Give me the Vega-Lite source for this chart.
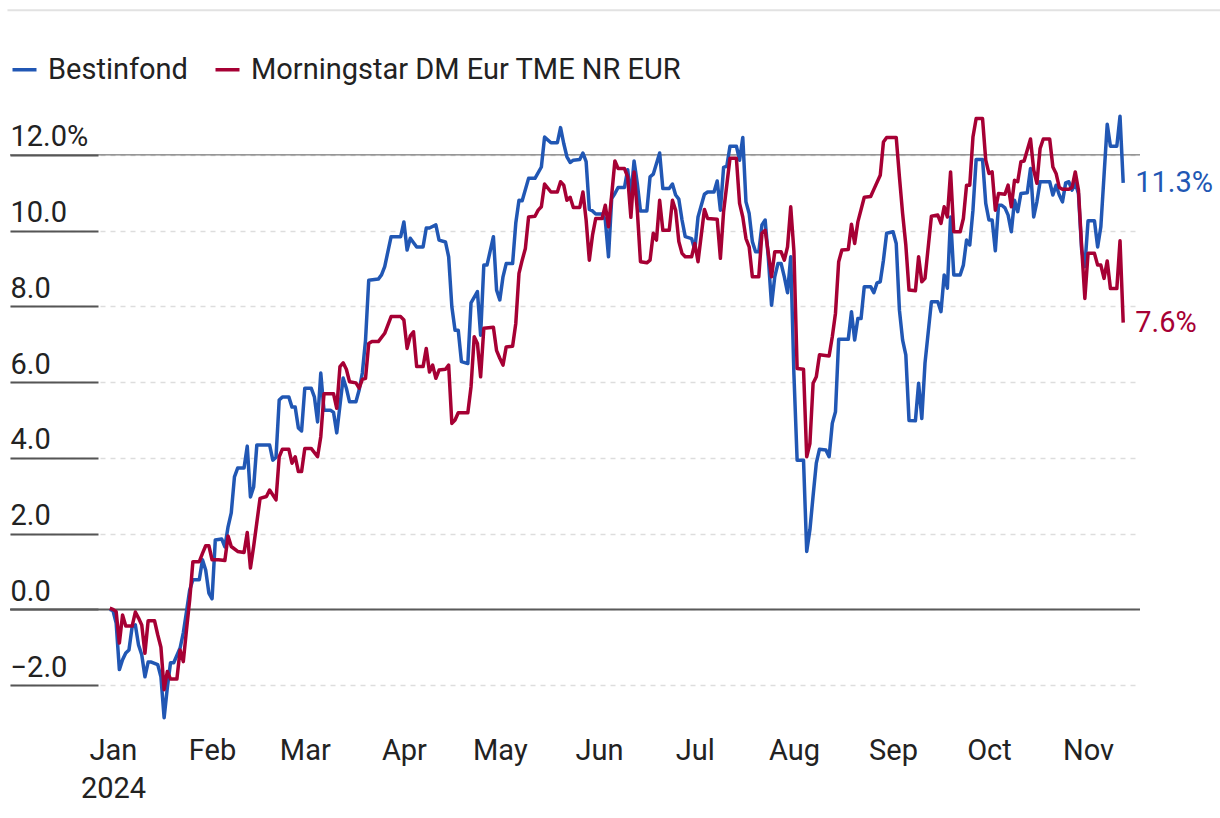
{
  "$schema": "https://vega.github.io/schema/vega-lite/v6.json",
  "width": 1130,
  "height": 606,
  "autosize": {"type": "none"},
  "padding": {"left": 10, "top": 117, "right": 80, "bottom": 95},
  "background": "white",
  "config": {
    "view": {"stroke": null},
    "font": "Roboto, sans-serif"
  },
  "data": {"values": [{}]},
  "datasets": {
    "series": [
      {"date": "2023-12-31", "value": 0.0, "series": "Bestinfond"},
      {"date": "2024-01-01", "value": -0.03, "series": "Bestinfond"},
      {"date": "2024-01-02", "value": -0.36, "series": "Bestinfond"},
      {"date": "2024-01-03", "value": -1.59, "series": "Bestinfond"},
      {"date": "2024-01-04", "value": -1.33, "series": "Bestinfond"},
      {"date": "2024-01-05", "value": -1.15, "series": "Bestinfond"},
      {"date": "2024-01-06", "value": -1.07, "series": "Bestinfond"},
      {"date": "2024-01-07", "value": -0.46, "series": "Bestinfond"},
      {"date": "2024-01-08", "value": -0.41, "series": "Bestinfond"},
      {"date": "2024-01-09", "value": -0.94, "series": "Bestinfond"},
      {"date": "2024-01-10", "value": -1.2, "series": "Bestinfond"},
      {"date": "2024-01-11", "value": -1.78, "series": "Bestinfond"},
      {"date": "2024-01-12", "value": -1.39, "series": "Bestinfond"},
      {"date": "2024-01-13", "value": -1.39, "series": "Bestinfond"},
      {"date": "2024-01-15", "value": -1.46, "series": "Bestinfond"},
      {"date": "2024-01-16", "value": -1.78, "series": "Bestinfond"},
      {"date": "2024-01-17", "value": -2.86, "series": "Bestinfond"},
      {"date": "2024-01-18", "value": -2.07, "series": "Bestinfond"},
      {"date": "2024-01-19", "value": -1.41, "series": "Bestinfond"},
      {"date": "2024-01-20", "value": -1.41, "series": "Bestinfond"},
      {"date": "2024-01-22", "value": -1.02, "series": "Bestinfond"},
      {"date": "2024-01-23", "value": -0.62, "series": "Bestinfond"},
      {"date": "2024-01-24", "value": -0.06, "series": "Bestinfond"},
      {"date": "2024-01-25", "value": 0.51, "series": "Bestinfond"},
      {"date": "2024-01-26", "value": 0.78, "series": "Bestinfond"},
      {"date": "2024-01-28", "value": 0.78, "series": "Bestinfond"},
      {"date": "2024-01-29", "value": 1.31, "series": "Bestinfond"},
      {"date": "2024-01-30", "value": 1.04, "series": "Bestinfond"},
      {"date": "2024-01-31", "value": 0.43, "series": "Bestinfond"},
      {"date": "2024-02-01", "value": 0.28, "series": "Bestinfond"},
      {"date": "2024-02-02", "value": 1.83, "series": "Bestinfond"},
      {"date": "2024-02-04", "value": 1.86, "series": "Bestinfond"},
      {"date": "2024-02-05", "value": 1.65, "series": "Bestinfond"},
      {"date": "2024-02-06", "value": 2.18, "series": "Bestinfond"},
      {"date": "2024-02-07", "value": 2.55, "series": "Bestinfond"},
      {"date": "2024-02-08", "value": 3.5, "series": "Bestinfond"},
      {"date": "2024-02-09", "value": 3.73, "series": "Bestinfond"},
      {"date": "2024-02-11", "value": 3.73, "series": "Bestinfond"},
      {"date": "2024-02-12", "value": 4.31, "series": "Bestinfond"},
      {"date": "2024-02-13", "value": 2.97, "series": "Bestinfond"},
      {"date": "2024-02-14", "value": 3.23, "series": "Bestinfond"},
      {"date": "2024-02-15", "value": 4.34, "series": "Bestinfond"},
      {"date": "2024-02-19", "value": 4.34, "series": "Bestinfond"},
      {"date": "2024-02-20", "value": 3.94, "series": "Bestinfond"},
      {"date": "2024-02-21", "value": 4.02, "series": "Bestinfond"},
      {"date": "2024-02-22", "value": 5.53, "series": "Bestinfond"},
      {"date": "2024-02-23", "value": 5.61, "series": "Bestinfond"},
      {"date": "2024-02-25", "value": 5.61, "series": "Bestinfond"},
      {"date": "2024-02-26", "value": 5.34, "series": "Bestinfond"},
      {"date": "2024-02-27", "value": 5.34, "series": "Bestinfond"},
      {"date": "2024-02-28", "value": 4.79, "series": "Bestinfond"},
      {"date": "2024-02-29", "value": 4.71, "series": "Bestinfond"},
      {"date": "2024-03-01", "value": 5.84, "series": "Bestinfond"},
      {"date": "2024-03-03", "value": 5.84, "series": "Bestinfond"},
      {"date": "2024-03-04", "value": 5.61, "series": "Bestinfond"},
      {"date": "2024-03-05", "value": 4.95, "series": "Bestinfond"},
      {"date": "2024-03-06", "value": 6.24, "series": "Bestinfond"},
      {"date": "2024-03-07", "value": 5.26, "series": "Bestinfond"},
      {"date": "2024-03-09", "value": 5.26, "series": "Bestinfond"},
      {"date": "2024-03-10", "value": 5.2, "series": "Bestinfond"},
      {"date": "2024-03-11", "value": 4.66, "series": "Bestinfond"},
      {"date": "2024-03-13", "value": 6.11, "series": "Bestinfond"},
      {"date": "2024-03-14", "value": 5.84, "series": "Bestinfond"},
      {"date": "2024-03-15", "value": 5.48, "series": "Bestinfond"},
      {"date": "2024-03-17", "value": 5.48, "series": "Bestinfond"},
      {"date": "2024-03-18", "value": 5.79, "series": "Bestinfond"},
      {"date": "2024-03-19", "value": 6.24, "series": "Bestinfond"},
      {"date": "2024-03-20", "value": 7.11, "series": "Bestinfond"},
      {"date": "2024-03-21", "value": 8.69, "series": "Bestinfond"},
      {"date": "2024-03-24", "value": 8.72, "series": "Bestinfond"},
      {"date": "2024-03-25", "value": 8.83, "series": "Bestinfond"},
      {"date": "2024-03-26", "value": 9.05, "series": "Bestinfond"},
      {"date": "2024-03-28", "value": 9.84, "series": "Bestinfond"},
      {"date": "2024-03-31", "value": 9.84, "series": "Bestinfond"},
      {"date": "2024-04-01", "value": 10.23, "series": "Bestinfond"},
      {"date": "2024-04-02", "value": 9.49, "series": "Bestinfond"},
      {"date": "2024-04-03", "value": 9.8, "series": "Bestinfond"},
      {"date": "2024-04-05", "value": 9.57, "series": "Bestinfond"},
      {"date": "2024-04-07", "value": 9.57, "series": "Bestinfond"},
      {"date": "2024-04-08", "value": 10.07, "series": "Bestinfond"},
      {"date": "2024-04-09", "value": 10.07, "series": "Bestinfond"},
      {"date": "2024-04-11", "value": 10.15, "series": "Bestinfond"},
      {"date": "2024-04-12", "value": 9.75, "series": "Bestinfond"},
      {"date": "2024-04-14", "value": 9.7, "series": "Bestinfond"},
      {"date": "2024-04-15", "value": 9.31, "series": "Bestinfond"},
      {"date": "2024-04-16", "value": 7.99, "series": "Bestinfond"},
      {"date": "2024-04-17", "value": 7.37, "series": "Bestinfond"},
      {"date": "2024-04-18", "value": 7.37, "series": "Bestinfond"},
      {"date": "2024-04-19", "value": 6.54, "series": "Bestinfond"},
      {"date": "2024-04-21", "value": 6.49, "series": "Bestinfond"},
      {"date": "2024-04-22", "value": 8.09, "series": "Bestinfond"},
      {"date": "2024-04-24", "value": 8.39, "series": "Bestinfond"},
      {"date": "2024-04-25", "value": 7.24, "series": "Bestinfond"},
      {"date": "2024-04-26", "value": 9.09, "series": "Bestinfond"},
      {"date": "2024-04-27", "value": 9.09, "series": "Bestinfond"},
      {"date": "2024-04-29", "value": 9.84, "series": "Bestinfond"},
      {"date": "2024-04-30", "value": 8.43, "series": "Bestinfond"},
      {"date": "2024-05-01", "value": 8.17, "series": "Bestinfond"},
      {"date": "2024-05-02", "value": 8.78, "series": "Bestinfond"},
      {"date": "2024-05-03", "value": 9.13, "series": "Bestinfond"},
      {"date": "2024-05-05", "value": 9.13, "series": "Bestinfond"},
      {"date": "2024-05-06", "value": 10.2, "series": "Bestinfond"},
      {"date": "2024-05-07", "value": 10.8, "series": "Bestinfond"},
      {"date": "2024-05-08", "value": 10.79, "series": "Bestinfond"},
      {"date": "2024-05-10", "value": 11.38, "series": "Bestinfond"},
      {"date": "2024-05-12", "value": 11.38, "series": "Bestinfond"},
      {"date": "2024-05-14", "value": 11.68, "series": "Bestinfond"},
      {"date": "2024-05-15", "value": 12.47, "series": "Bestinfond"},
      {"date": "2024-05-17", "value": 12.32, "series": "Bestinfond"},
      {"date": "2024-05-19", "value": 12.32, "series": "Bestinfond"},
      {"date": "2024-05-20", "value": 12.72, "series": "Bestinfond"},
      {"date": "2024-05-21", "value": 12.3, "series": "Bestinfond"},
      {"date": "2024-05-22", "value": 11.95, "series": "Bestinfond"},
      {"date": "2024-05-23", "value": 11.8, "series": "Bestinfond"},
      {"date": "2024-05-24", "value": 11.86, "series": "Bestinfond"},
      {"date": "2024-05-26", "value": 11.88, "series": "Bestinfond"},
      {"date": "2024-05-27", "value": 12.05, "series": "Bestinfond"},
      {"date": "2024-05-28", "value": 11.82, "series": "Bestinfond"},
      {"date": "2024-05-29", "value": 10.56, "series": "Bestinfond"},
      {"date": "2024-05-30", "value": 10.52, "series": "Bestinfond"},
      {"date": "2024-05-31", "value": 10.44, "series": "Bestinfond"},
      {"date": "2024-06-02", "value": 10.44, "series": "Bestinfond"},
      {"date": "2024-06-03", "value": 10.28, "series": "Bestinfond"},
      {"date": "2024-06-04", "value": 9.31, "series": "Bestinfond"},
      {"date": "2024-06-05", "value": 10.85, "series": "Bestinfond"},
      {"date": "2024-06-06", "value": 10.98, "series": "Bestinfond"},
      {"date": "2024-06-07", "value": 11.14, "series": "Bestinfond"},
      {"date": "2024-06-09", "value": 11.14, "series": "Bestinfond"},
      {"date": "2024-06-10", "value": 11.61, "series": "Bestinfond"},
      {"date": "2024-06-11", "value": 10.91, "series": "Bestinfond"},
      {"date": "2024-06-12", "value": 11.84, "series": "Bestinfond"},
      {"date": "2024-06-13", "value": 11.25, "series": "Bestinfond"},
      {"date": "2024-06-14", "value": 10.52, "series": "Bestinfond"},
      {"date": "2024-06-16", "value": 10.52, "series": "Bestinfond"},
      {"date": "2024-06-17", "value": 11.42, "series": "Bestinfond"},
      {"date": "2024-06-18", "value": 11.49, "series": "Bestinfond"},
      {"date": "2024-06-20", "value": 12.05, "series": "Bestinfond"},
      {"date": "2024-06-21", "value": 11.11, "series": "Bestinfond"},
      {"date": "2024-06-23", "value": 11.11, "series": "Bestinfond"},
      {"date": "2024-06-24", "value": 11.23, "series": "Bestinfond"},
      {"date": "2024-06-25", "value": 10.94, "series": "Bestinfond"},
      {"date": "2024-06-26", "value": 10.83, "series": "Bestinfond"},
      {"date": "2024-06-27", "value": 10.28, "series": "Bestinfond"},
      {"date": "2024-06-28", "value": 9.84, "series": "Bestinfond"},
      {"date": "2024-06-30", "value": 9.79, "series": "Bestinfond"},
      {"date": "2024-07-01", "value": 9.49, "series": "Bestinfond"},
      {"date": "2024-07-02", "value": 10.36, "series": "Bestinfond"},
      {"date": "2024-07-04", "value": 10.96, "series": "Bestinfond"},
      {"date": "2024-07-05", "value": 11.02, "series": "Bestinfond"},
      {"date": "2024-07-07", "value": 11.02, "series": "Bestinfond"},
      {"date": "2024-07-08", "value": 11.31, "series": "Bestinfond"},
      {"date": "2024-07-09", "value": 10.54, "series": "Bestinfond"},
      {"date": "2024-07-10", "value": 11.67, "series": "Bestinfond"},
      {"date": "2024-07-11", "value": 11.7, "series": "Bestinfond"},
      {"date": "2024-07-12", "value": 12.23, "series": "Bestinfond"},
      {"date": "2024-07-14", "value": 12.23, "series": "Bestinfond"},
      {"date": "2024-07-15", "value": 11.86, "series": "Bestinfond"},
      {"date": "2024-07-16", "value": 12.46, "series": "Bestinfond"},
      {"date": "2024-07-17", "value": 10.76, "series": "Bestinfond"},
      {"date": "2024-07-18", "value": 10.45, "series": "Bestinfond"},
      {"date": "2024-07-19", "value": 9.71, "series": "Bestinfond"},
      {"date": "2024-07-20", "value": 9.44, "series": "Bestinfond"},
      {"date": "2024-07-21", "value": 9.44, "series": "Bestinfond"},
      {"date": "2024-07-22", "value": 10.15, "series": "Bestinfond"},
      {"date": "2024-07-23", "value": 10.28, "series": "Bestinfond"},
      {"date": "2024-07-24", "value": 9.27, "series": "Bestinfond"},
      {"date": "2024-07-25", "value": 8.03, "series": "Bestinfond"},
      {"date": "2024-07-26", "value": 8.78, "series": "Bestinfond"},
      {"date": "2024-07-27", "value": 9.13, "series": "Bestinfond"},
      {"date": "2024-07-28", "value": 9.13, "series": "Bestinfond"},
      {"date": "2024-07-29", "value": 8.78, "series": "Bestinfond"},
      {"date": "2024-07-30", "value": 8.36, "series": "Bestinfond"},
      {"date": "2024-07-31", "value": 9.31, "series": "Bestinfond"},
      {"date": "2024-08-01", "value": 6.2, "series": "Bestinfond"},
      {"date": "2024-08-02", "value": 3.94, "series": "Bestinfond"},
      {"date": "2024-08-04", "value": 3.94, "series": "Bestinfond"},
      {"date": "2024-08-05", "value": 1.53, "series": "Bestinfond"},
      {"date": "2024-08-06", "value": 2.1, "series": "Bestinfond"},
      {"date": "2024-08-07", "value": 3.0, "series": "Bestinfond"},
      {"date": "2024-08-08", "value": 3.86, "series": "Bestinfond"},
      {"date": "2024-08-09", "value": 4.23, "series": "Bestinfond"},
      {"date": "2024-08-11", "value": 4.21, "series": "Bestinfond"},
      {"date": "2024-08-12", "value": 4.03, "series": "Bestinfond"},
      {"date": "2024-08-13", "value": 4.91, "series": "Bestinfond"},
      {"date": "2024-08-14", "value": 5.22, "series": "Bestinfond"},
      {"date": "2024-08-15", "value": 7.13, "series": "Bestinfond"},
      {"date": "2024-08-18", "value": 7.13, "series": "Bestinfond"},
      {"date": "2024-08-19", "value": 7.86, "series": "Bestinfond"},
      {"date": "2024-08-20", "value": 7.11, "series": "Bestinfond"},
      {"date": "2024-08-21", "value": 7.68, "series": "Bestinfond"},
      {"date": "2024-08-22", "value": 7.68, "series": "Bestinfond"},
      {"date": "2024-08-23", "value": 8.52, "series": "Bestinfond"},
      {"date": "2024-08-25", "value": 8.52, "series": "Bestinfond"},
      {"date": "2024-08-26", "value": 8.36, "series": "Bestinfond"},
      {"date": "2024-08-27", "value": 8.62, "series": "Bestinfond"},
      {"date": "2024-08-28", "value": 8.65, "series": "Bestinfond"},
      {"date": "2024-08-29", "value": 9.22, "series": "Bestinfond"},
      {"date": "2024-08-30", "value": 9.93, "series": "Bestinfond"},
      {"date": "2024-09-01", "value": 9.97, "series": "Bestinfond"},
      {"date": "2024-09-02", "value": 9.66, "series": "Bestinfond"},
      {"date": "2024-09-03", "value": 7.9, "series": "Bestinfond"},
      {"date": "2024-09-04", "value": 7.11, "series": "Bestinfond"},
      {"date": "2024-09-05", "value": 6.72, "series": "Bestinfond"},
      {"date": "2024-09-06", "value": 4.99, "series": "Bestinfond"},
      {"date": "2024-09-08", "value": 4.98, "series": "Bestinfond"},
      {"date": "2024-09-09", "value": 5.97, "series": "Bestinfond"},
      {"date": "2024-09-10", "value": 5.04, "series": "Bestinfond"},
      {"date": "2024-09-11", "value": 6.5, "series": "Bestinfond"},
      {"date": "2024-09-13", "value": 8.12, "series": "Bestinfond"},
      {"date": "2024-09-15", "value": 8.12, "series": "Bestinfond"},
      {"date": "2024-09-16", "value": 7.86, "series": "Bestinfond"},
      {"date": "2024-09-17", "value": 8.83, "series": "Bestinfond"},
      {"date": "2024-09-18", "value": 8.48, "series": "Bestinfond"},
      {"date": "2024-09-19", "value": 10.36, "series": "Bestinfond"},
      {"date": "2024-09-20", "value": 8.83, "series": "Bestinfond"},
      {"date": "2024-09-22", "value": 8.83, "series": "Bestinfond"},
      {"date": "2024-09-23", "value": 9.09, "series": "Bestinfond"},
      {"date": "2024-09-24", "value": 9.75, "series": "Bestinfond"},
      {"date": "2024-09-25", "value": 9.62, "series": "Bestinfond"},
      {"date": "2024-09-26", "value": 10.54, "series": "Bestinfond"},
      {"date": "2024-09-27", "value": 11.88, "series": "Bestinfond"},
      {"date": "2024-09-29", "value": 11.88, "series": "Bestinfond"},
      {"date": "2024-09-30", "value": 10.72, "series": "Bestinfond"},
      {"date": "2024-10-01", "value": 10.28, "series": "Bestinfond"},
      {"date": "2024-10-02", "value": 10.28, "series": "Bestinfond"},
      {"date": "2024-10-03", "value": 9.47, "series": "Bestinfond"},
      {"date": "2024-10-04", "value": 10.67, "series": "Bestinfond"},
      {"date": "2024-10-05", "value": 10.67, "series": "Bestinfond"},
      {"date": "2024-10-06", "value": 10.6, "series": "Bestinfond"},
      {"date": "2024-10-07", "value": 10.41, "series": "Bestinfond"},
      {"date": "2024-10-08", "value": 9.97, "series": "Bestinfond"},
      {"date": "2024-10-09", "value": 10.8, "series": "Bestinfond"},
      {"date": "2024-10-10", "value": 10.5, "series": "Bestinfond"},
      {"date": "2024-10-11", "value": 10.98, "series": "Bestinfond"},
      {"date": "2024-10-13", "value": 11.0, "series": "Bestinfond"},
      {"date": "2024-10-14", "value": 11.64, "series": "Bestinfond"},
      {"date": "2024-10-15", "value": 10.36, "series": "Bestinfond"},
      {"date": "2024-10-16", "value": 10.76, "series": "Bestinfond"},
      {"date": "2024-10-17", "value": 11.29, "series": "Bestinfond"},
      {"date": "2024-10-20", "value": 11.29, "series": "Bestinfond"},
      {"date": "2024-10-21", "value": 10.94, "series": "Bestinfond"},
      {"date": "2024-10-22", "value": 11.2, "series": "Bestinfond"},
      {"date": "2024-10-23", "value": 10.94, "series": "Bestinfond"},
      {"date": "2024-10-24", "value": 10.76, "series": "Bestinfond"},
      {"date": "2024-10-25", "value": 11.26, "series": "Bestinfond"},
      {"date": "2024-10-26", "value": 11.29, "series": "Bestinfond"},
      {"date": "2024-10-27", "value": 11.07, "series": "Bestinfond"},
      {"date": "2024-10-28", "value": 11.25, "series": "Bestinfond"},
      {"date": "2024-10-29", "value": 10.98, "series": "Bestinfond"},
      {"date": "2024-10-30", "value": 9.49, "series": "Bestinfond"},
      {"date": "2024-10-31", "value": 9.05, "series": "Bestinfond"},
      {"date": "2024-11-01", "value": 10.26, "series": "Bestinfond"},
      {"date": "2024-11-03", "value": 10.26, "series": "Bestinfond"},
      {"date": "2024-11-04", "value": 9.57, "series": "Bestinfond"},
      {"date": "2024-11-05", "value": 10.1, "series": "Bestinfond"},
      {"date": "2024-11-07", "value": 12.81, "series": "Bestinfond"},
      {"date": "2024-11-08", "value": 12.23, "series": "Bestinfond"},
      {"date": "2024-11-10", "value": 12.23, "series": "Bestinfond"},
      {"date": "2024-11-11", "value": 13.02, "series": "Bestinfond"},
      {"date": "2024-11-12", "value": 11.26, "series": "Bestinfond"},

      {"date": "2023-12-31", "value": 0.03, "series": "Morningstar DM Eur TME NR EUR"},
      {"date": "2024-01-01", "value": 0.0, "series": "Morningstar DM Eur TME NR EUR"},
      {"date": "2024-01-02", "value": -0.06, "series": "Morningstar DM Eur TME NR EUR"},
      {"date": "2024-01-03", "value": -0.89, "series": "Morningstar DM Eur TME NR EUR"},
      {"date": "2024-01-04", "value": -0.15, "series": "Morningstar DM Eur TME NR EUR"},
      {"date": "2024-01-05", "value": -0.44, "series": "Morningstar DM Eur TME NR EUR"},
      {"date": "2024-01-07", "value": -0.44, "series": "Morningstar DM Eur TME NR EUR"},
      {"date": "2024-01-08", "value": -0.07, "series": "Morningstar DM Eur TME NR EUR"},
      {"date": "2024-01-09", "value": -0.23, "series": "Morningstar DM Eur TME NR EUR"},
      {"date": "2024-01-10", "value": -0.41, "series": "Morningstar DM Eur TME NR EUR"},
      {"date": "2024-01-11", "value": -1.16, "series": "Morningstar DM Eur TME NR EUR"},
      {"date": "2024-01-12", "value": -0.3, "series": "Morningstar DM Eur TME NR EUR"},
      {"date": "2024-01-14", "value": -0.3, "series": "Morningstar DM Eur TME NR EUR"},
      {"date": "2024-01-15", "value": -0.67, "series": "Morningstar DM Eur TME NR EUR"},
      {"date": "2024-01-16", "value": -1.0, "series": "Morningstar DM Eur TME NR EUR"},
      {"date": "2024-01-17", "value": -2.12, "series": "Morningstar DM Eur TME NR EUR"},
      {"date": "2024-01-18", "value": -1.64, "series": "Morningstar DM Eur TME NR EUR"},
      {"date": "2024-01-19", "value": -1.84, "series": "Morningstar DM Eur TME NR EUR"},
      {"date": "2024-01-21", "value": -1.84, "series": "Morningstar DM Eur TME NR EUR"},
      {"date": "2024-01-22", "value": -1.07, "series": "Morningstar DM Eur TME NR EUR"},
      {"date": "2024-01-23", "value": -1.38, "series": "Morningstar DM Eur TME NR EUR"},
      {"date": "2024-01-24", "value": -0.54, "series": "Morningstar DM Eur TME NR EUR"},
      {"date": "2024-01-25", "value": 0.25, "series": "Morningstar DM Eur TME NR EUR"},
      {"date": "2024-01-26", "value": 1.26, "series": "Morningstar DM Eur TME NR EUR"},
      {"date": "2024-01-28", "value": 1.26, "series": "Morningstar DM Eur TME NR EUR"},
      {"date": "2024-01-29", "value": 1.48, "series": "Morningstar DM Eur TME NR EUR"},
      {"date": "2024-01-30", "value": 1.68, "series": "Morningstar DM Eur TME NR EUR"},
      {"date": "2024-01-31", "value": 1.68, "series": "Morningstar DM Eur TME NR EUR"},
      {"date": "2024-02-01", "value": 1.31, "series": "Morningstar DM Eur TME NR EUR"},
      {"date": "2024-02-03", "value": 1.31, "series": "Morningstar DM Eur TME NR EUR"},
      {"date": "2024-02-05", "value": 1.29, "series": "Morningstar DM Eur TME NR EUR"},
      {"date": "2024-02-06", "value": 1.94, "series": "Morningstar DM Eur TME NR EUR"},
      {"date": "2024-02-07", "value": 1.66, "series": "Morningstar DM Eur TME NR EUR"},
      {"date": "2024-02-09", "value": 1.53, "series": "Morningstar DM Eur TME NR EUR"},
      {"date": "2024-02-11", "value": 1.5, "series": "Morningstar DM Eur TME NR EUR"},
      {"date": "2024-02-12", "value": 2.03, "series": "Morningstar DM Eur TME NR EUR"},
      {"date": "2024-02-13", "value": 1.09, "series": "Morningstar DM Eur TME NR EUR"},
      {"date": "2024-02-14", "value": 1.66, "series": "Morningstar DM Eur TME NR EUR"},
      {"date": "2024-02-16", "value": 2.93, "series": "Morningstar DM Eur TME NR EUR"},
      {"date": "2024-02-18", "value": 2.98, "series": "Morningstar DM Eur TME NR EUR"},
      {"date": "2024-02-19", "value": 3.15, "series": "Morningstar DM Eur TME NR EUR"},
      {"date": "2024-02-21", "value": 2.89, "series": "Morningstar DM Eur TME NR EUR"},
      {"date": "2024-02-22", "value": 4.03, "series": "Morningstar DM Eur TME NR EUR"},
      {"date": "2024-02-23", "value": 4.23, "series": "Morningstar DM Eur TME NR EUR"},
      {"date": "2024-02-25", "value": 4.23, "series": "Morningstar DM Eur TME NR EUR"},
      {"date": "2024-02-26", "value": 3.86, "series": "Morningstar DM Eur TME NR EUR"},
      {"date": "2024-02-27", "value": 4.03, "series": "Morningstar DM Eur TME NR EUR"},
      {"date": "2024-02-28", "value": 3.64, "series": "Morningstar DM Eur TME NR EUR"},
      {"date": "2024-02-29", "value": 3.64, "series": "Morningstar DM Eur TME NR EUR"},
      {"date": "2024-03-01", "value": 4.25, "series": "Morningstar DM Eur TME NR EUR"},
      {"date": "2024-03-03", "value": 4.25, "series": "Morningstar DM Eur TME NR EUR"},
      {"date": "2024-03-05", "value": 4.03, "series": "Morningstar DM Eur TME NR EUR"},
      {"date": "2024-03-06", "value": 4.56, "series": "Morningstar DM Eur TME NR EUR"},
      {"date": "2024-03-07", "value": 5.69, "series": "Morningstar DM Eur TME NR EUR"},
      {"date": "2024-03-10", "value": 5.69, "series": "Morningstar DM Eur TME NR EUR"},
      {"date": "2024-03-11", "value": 5.31, "series": "Morningstar DM Eur TME NR EUR"},
      {"date": "2024-03-12", "value": 6.41, "series": "Morningstar DM Eur TME NR EUR"},
      {"date": "2024-03-13", "value": 6.51, "series": "Morningstar DM Eur TME NR EUR"},
      {"date": "2024-03-14", "value": 6.34, "series": "Morningstar DM Eur TME NR EUR"},
      {"date": "2024-03-15", "value": 6.01, "series": "Morningstar DM Eur TME NR EUR"},
      {"date": "2024-03-17", "value": 5.98, "series": "Morningstar DM Eur TME NR EUR"},
      {"date": "2024-03-18", "value": 5.84, "series": "Morningstar DM Eur TME NR EUR"},
      {"date": "2024-03-19", "value": 6.07, "series": "Morningstar DM Eur TME NR EUR"},
      {"date": "2024-03-20", "value": 6.1, "series": "Morningstar DM Eur TME NR EUR"},
      {"date": "2024-03-21", "value": 7.02, "series": "Morningstar DM Eur TME NR EUR"},
      {"date": "2024-03-22", "value": 7.07, "series": "Morningstar DM Eur TME NR EUR"},
      {"date": "2024-03-24", "value": 7.07, "series": "Morningstar DM Eur TME NR EUR"},
      {"date": "2024-03-26", "value": 7.29, "series": "Morningstar DM Eur TME NR EUR"},
      {"date": "2024-03-28", "value": 7.73, "series": "Morningstar DM Eur TME NR EUR"},
      {"date": "2024-03-31", "value": 7.73, "series": "Morningstar DM Eur TME NR EUR"},
      {"date": "2024-04-01", "value": 7.64, "series": "Morningstar DM Eur TME NR EUR"},
      {"date": "2024-04-02", "value": 6.89, "series": "Morningstar DM Eur TME NR EUR"},
      {"date": "2024-04-03", "value": 7.22, "series": "Morningstar DM Eur TME NR EUR"},
      {"date": "2024-04-04", "value": 7.33, "series": "Morningstar DM Eur TME NR EUR"},
      {"date": "2024-04-05", "value": 6.41, "series": "Morningstar DM Eur TME NR EUR"},
      {"date": "2024-04-07", "value": 6.41, "series": "Morningstar DM Eur TME NR EUR"},
      {"date": "2024-04-08", "value": 6.89, "series": "Morningstar DM Eur TME NR EUR"},
      {"date": "2024-04-09", "value": 6.27, "series": "Morningstar DM Eur TME NR EUR"},
      {"date": "2024-04-10", "value": 6.45, "series": "Morningstar DM Eur TME NR EUR"},
      {"date": "2024-04-11", "value": 6.1, "series": "Morningstar DM Eur TME NR EUR"},
      {"date": "2024-04-12", "value": 6.32, "series": "Morningstar DM Eur TME NR EUR"},
      {"date": "2024-04-14", "value": 6.34, "series": "Morningstar DM Eur TME NR EUR"},
      {"date": "2024-04-15", "value": 6.45, "series": "Morningstar DM Eur TME NR EUR"},
      {"date": "2024-04-16", "value": 4.91, "series": "Morningstar DM Eur TME NR EUR"},
      {"date": "2024-04-17", "value": 5.0, "series": "Morningstar DM Eur TME NR EUR"},
      {"date": "2024-04-18", "value": 5.19, "series": "Morningstar DM Eur TME NR EUR"},
      {"date": "2024-04-21", "value": 5.19, "series": "Morningstar DM Eur TME NR EUR"},
      {"date": "2024-04-22", "value": 5.88, "series": "Morningstar DM Eur TME NR EUR"},
      {"date": "2024-04-23", "value": 7.2, "series": "Morningstar DM Eur TME NR EUR"},
      {"date": "2024-04-24", "value": 7.02, "series": "Morningstar DM Eur TME NR EUR"},
      {"date": "2024-04-25", "value": 6.14, "series": "Morningstar DM Eur TME NR EUR"},
      {"date": "2024-04-26", "value": 7.42, "series": "Morningstar DM Eur TME NR EUR"},
      {"date": "2024-04-29", "value": 7.45, "series": "Morningstar DM Eur TME NR EUR"},
      {"date": "2024-04-30", "value": 6.83, "series": "Morningstar DM Eur TME NR EUR"},
      {"date": "2024-05-01", "value": 6.63, "series": "Morningstar DM Eur TME NR EUR"},
      {"date": "2024-05-02", "value": 6.45, "series": "Morningstar DM Eur TME NR EUR"},
      {"date": "2024-05-03", "value": 6.93, "series": "Morningstar DM Eur TME NR EUR"},
      {"date": "2024-05-05", "value": 6.95, "series": "Morningstar DM Eur TME NR EUR"},
      {"date": "2024-05-06", "value": 7.55, "series": "Morningstar DM Eur TME NR EUR"},
      {"date": "2024-05-07", "value": 8.87, "series": "Morningstar DM Eur TME NR EUR"},
      {"date": "2024-05-08", "value": 9.22, "series": "Morningstar DM Eur TME NR EUR"},
      {"date": "2024-05-09", "value": 9.53, "series": "Morningstar DM Eur TME NR EUR"},
      {"date": "2024-05-10", "value": 10.36, "series": "Morningstar DM Eur TME NR EUR"},
      {"date": "2024-05-12", "value": 10.38, "series": "Morningstar DM Eur TME NR EUR"},
      {"date": "2024-05-13", "value": 10.54, "series": "Morningstar DM Eur TME NR EUR"},
      {"date": "2024-05-14", "value": 10.63, "series": "Morningstar DM Eur TME NR EUR"},
      {"date": "2024-05-15", "value": 11.23, "series": "Morningstar DM Eur TME NR EUR"},
      {"date": "2024-05-17", "value": 11.02, "series": "Morningstar DM Eur TME NR EUR"},
      {"date": "2024-05-19", "value": 11.02, "series": "Morningstar DM Eur TME NR EUR"},
      {"date": "2024-05-20", "value": 11.29, "series": "Morningstar DM Eur TME NR EUR"},
      {"date": "2024-05-21", "value": 11.2, "series": "Morningstar DM Eur TME NR EUR"},
      {"date": "2024-05-22", "value": 10.8, "series": "Morningstar DM Eur TME NR EUR"},
      {"date": "2024-05-23", "value": 10.88, "series": "Morningstar DM Eur TME NR EUR"},
      {"date": "2024-05-24", "value": 10.61, "series": "Morningstar DM Eur TME NR EUR"},
      {"date": "2024-05-26", "value": 10.61, "series": "Morningstar DM Eur TME NR EUR"},
      {"date": "2024-05-27", "value": 11.02, "series": "Morningstar DM Eur TME NR EUR"},
      {"date": "2024-05-28", "value": 10.28, "series": "Morningstar DM Eur TME NR EUR"},
      {"date": "2024-05-29", "value": 9.22, "series": "Morningstar DM Eur TME NR EUR"},
      {"date": "2024-05-30", "value": 9.88, "series": "Morningstar DM Eur TME NR EUR"},
      {"date": "2024-05-31", "value": 10.32, "series": "Morningstar DM Eur TME NR EUR"},
      {"date": "2024-06-02", "value": 10.32, "series": "Morningstar DM Eur TME NR EUR"},
      {"date": "2024-06-03", "value": 10.67, "series": "Morningstar DM Eur TME NR EUR"},
      {"date": "2024-06-04", "value": 10.1, "series": "Morningstar DM Eur TME NR EUR"},
      {"date": "2024-06-05", "value": 10.94, "series": "Morningstar DM Eur TME NR EUR"},
      {"date": "2024-06-06", "value": 11.84, "series": "Morningstar DM Eur TME NR EUR"},
      {"date": "2024-06-07", "value": 11.64, "series": "Morningstar DM Eur TME NR EUR"},
      {"date": "2024-06-09", "value": 11.64, "series": "Morningstar DM Eur TME NR EUR"},
      {"date": "2024-06-10", "value": 11.42, "series": "Morningstar DM Eur TME NR EUR"},
      {"date": "2024-06-11", "value": 10.35, "series": "Morningstar DM Eur TME NR EUR"},
      {"date": "2024-06-12", "value": 11.55, "series": "Morningstar DM Eur TME NR EUR"},
      {"date": "2024-06-13", "value": 10.54, "series": "Morningstar DM Eur TME NR EUR"},
      {"date": "2024-06-14", "value": 9.18, "series": "Morningstar DM Eur TME NR EUR"},
      {"date": "2024-06-16", "value": 9.15, "series": "Morningstar DM Eur TME NR EUR"},
      {"date": "2024-06-17", "value": 9.22, "series": "Morningstar DM Eur TME NR EUR"},
      {"date": "2024-06-18", "value": 9.93, "series": "Morningstar DM Eur TME NR EUR"},
      {"date": "2024-06-19", "value": 9.75, "series": "Morningstar DM Eur TME NR EUR"},
      {"date": "2024-06-20", "value": 10.8, "series": "Morningstar DM Eur TME NR EUR"},
      {"date": "2024-06-21", "value": 10.01, "series": "Morningstar DM Eur TME NR EUR"},
      {"date": "2024-06-23", "value": 10.01, "series": "Morningstar DM Eur TME NR EUR"},
      {"date": "2024-06-24", "value": 10.8, "series": "Morningstar DM Eur TME NR EUR"},
      {"date": "2024-06-25", "value": 10.54, "series": "Morningstar DM Eur TME NR EUR"},
      {"date": "2024-06-26", "value": 9.71, "series": "Morningstar DM Eur TME NR EUR"},
      {"date": "2024-06-27", "value": 9.4, "series": "Morningstar DM Eur TME NR EUR"},
      {"date": "2024-06-28", "value": 9.31, "series": "Morningstar DM Eur TME NR EUR"},
      {"date": "2024-06-30", "value": 9.31, "series": "Morningstar DM Eur TME NR EUR"},
      {"date": "2024-07-01", "value": 9.66, "series": "Morningstar DM Eur TME NR EUR"},
      {"date": "2024-07-02", "value": 9.18, "series": "Morningstar DM Eur TME NR EUR"},
      {"date": "2024-07-04", "value": 10.56, "series": "Morningstar DM Eur TME NR EUR"},
      {"date": "2024-07-05", "value": 10.32, "series": "Morningstar DM Eur TME NR EUR"},
      {"date": "2024-07-08", "value": 10.3, "series": "Morningstar DM Eur TME NR EUR"},
      {"date": "2024-07-09", "value": 9.27, "series": "Morningstar DM Eur TME NR EUR"},
      {"date": "2024-07-10", "value": 10.5, "series": "Morningstar DM Eur TME NR EUR"},
      {"date": "2024-07-12", "value": 11.91, "series": "Morningstar DM Eur TME NR EUR"},
      {"date": "2024-07-14", "value": 11.91, "series": "Morningstar DM Eur TME NR EUR"},
      {"date": "2024-07-15", "value": 10.72, "series": "Morningstar DM Eur TME NR EUR"},
      {"date": "2024-07-16", "value": 10.36, "series": "Morningstar DM Eur TME NR EUR"},
      {"date": "2024-07-17", "value": 9.79, "series": "Morningstar DM Eur TME NR EUR"},
      {"date": "2024-07-18", "value": 9.57, "series": "Morningstar DM Eur TME NR EUR"},
      {"date": "2024-07-19", "value": 8.78, "series": "Morningstar DM Eur TME NR EUR"},
      {"date": "2024-07-21", "value": 8.78, "series": "Morningstar DM Eur TME NR EUR"},
      {"date": "2024-07-22", "value": 9.93, "series": "Morningstar DM Eur TME NR EUR"},
      {"date": "2024-07-23", "value": 10.01, "series": "Morningstar DM Eur TME NR EUR"},
      {"date": "2024-07-24", "value": 9.4, "series": "Morningstar DM Eur TME NR EUR"},
      {"date": "2024-07-25", "value": 8.78, "series": "Morningstar DM Eur TME NR EUR"},
      {"date": "2024-07-26", "value": 9.44, "series": "Morningstar DM Eur TME NR EUR"},
      {"date": "2024-07-28", "value": 9.44, "series": "Morningstar DM Eur TME NR EUR"},
      {"date": "2024-07-29", "value": 9.22, "series": "Morningstar DM Eur TME NR EUR"},
      {"date": "2024-07-30", "value": 9.57, "series": "Morningstar DM Eur TME NR EUR"},
      {"date": "2024-07-31", "value": 10.63, "series": "Morningstar DM Eur TME NR EUR"},
      {"date": "2024-08-01", "value": 9.45, "series": "Morningstar DM Eur TME NR EUR"},
      {"date": "2024-08-02", "value": 6.36, "series": "Morningstar DM Eur TME NR EUR"},
      {"date": "2024-08-04", "value": 6.34, "series": "Morningstar DM Eur TME NR EUR"},
      {"date": "2024-08-05", "value": 4.03, "series": "Morningstar DM Eur TME NR EUR"},
      {"date": "2024-08-06", "value": 4.38, "series": "Morningstar DM Eur TME NR EUR"},
      {"date": "2024-08-07", "value": 5.97, "series": "Morningstar DM Eur TME NR EUR"},
      {"date": "2024-08-08", "value": 6.14, "series": "Morningstar DM Eur TME NR EUR"},
      {"date": "2024-08-09", "value": 6.72, "series": "Morningstar DM Eur TME NR EUR"},
      {"date": "2024-08-12", "value": 6.69, "series": "Morningstar DM Eur TME NR EUR"},
      {"date": "2024-08-13", "value": 7.2, "series": "Morningstar DM Eur TME NR EUR"},
      {"date": "2024-08-14", "value": 7.82, "series": "Morningstar DM Eur TME NR EUR"},
      {"date": "2024-08-15", "value": 9.18, "series": "Morningstar DM Eur TME NR EUR"},
      {"date": "2024-08-16", "value": 9.49, "series": "Morningstar DM Eur TME NR EUR"},
      {"date": "2024-08-18", "value": 9.5, "series": "Morningstar DM Eur TME NR EUR"},
      {"date": "2024-08-19", "value": 10.17, "series": "Morningstar DM Eur TME NR EUR"},
      {"date": "2024-08-20", "value": 9.66, "series": "Morningstar DM Eur TME NR EUR"},
      {"date": "2024-08-21", "value": 10.23, "series": "Morningstar DM Eur TME NR EUR"},
      {"date": "2024-08-23", "value": 10.88, "series": "Morningstar DM Eur TME NR EUR"},
      {"date": "2024-08-25", "value": 10.9, "series": "Morningstar DM Eur TME NR EUR"},
      {"date": "2024-08-26", "value": 11.09, "series": "Morningstar DM Eur TME NR EUR"},
      {"date": "2024-08-28", "value": 11.46, "series": "Morningstar DM Eur TME NR EUR"},
      {"date": "2024-08-29", "value": 12.34, "series": "Morningstar DM Eur TME NR EUR"},
      {"date": "2024-08-30", "value": 12.46, "series": "Morningstar DM Eur TME NR EUR"},
      {"date": "2024-09-02", "value": 12.46, "series": "Morningstar DM Eur TME NR EUR"},
      {"date": "2024-09-03", "value": 11.42, "series": "Morningstar DM Eur TME NR EUR"},
      {"date": "2024-09-04", "value": 10.45, "series": "Morningstar DM Eur TME NR EUR"},
      {"date": "2024-09-05", "value": 9.62, "series": "Morningstar DM Eur TME NR EUR"},
      {"date": "2024-09-06", "value": 8.43, "series": "Morningstar DM Eur TME NR EUR"},
      {"date": "2024-09-08", "value": 8.41, "series": "Morningstar DM Eur TME NR EUR"},
      {"date": "2024-09-09", "value": 9.31, "series": "Morningstar DM Eur TME NR EUR"},
      {"date": "2024-09-10", "value": 8.65, "series": "Morningstar DM Eur TME NR EUR"},
      {"date": "2024-09-11", "value": 8.74, "series": "Morningstar DM Eur TME NR EUR"},
      {"date": "2024-09-13", "value": 10.38, "series": "Morningstar DM Eur TME NR EUR"},
      {"date": "2024-09-15", "value": 10.41, "series": "Morningstar DM Eur TME NR EUR"},
      {"date": "2024-09-16", "value": 10.19, "series": "Morningstar DM Eur TME NR EUR"},
      {"date": "2024-09-17", "value": 10.63, "series": "Morningstar DM Eur TME NR EUR"},
      {"date": "2024-09-18", "value": 10.36, "series": "Morningstar DM Eur TME NR EUR"},
      {"date": "2024-09-19", "value": 11.55, "series": "Morningstar DM Eur TME NR EUR"},
      {"date": "2024-09-20", "value": 9.97, "series": "Morningstar DM Eur TME NR EUR"},
      {"date": "2024-09-22", "value": 9.97, "series": "Morningstar DM Eur TME NR EUR"},
      {"date": "2024-09-23", "value": 10.32, "series": "Morningstar DM Eur TME NR EUR"},
      {"date": "2024-09-24", "value": 11.2, "series": "Morningstar DM Eur TME NR EUR"},
      {"date": "2024-09-25", "value": 11.2, "series": "Morningstar DM Eur TME NR EUR"},
      {"date": "2024-09-26", "value": 12.47, "series": "Morningstar DM Eur TME NR EUR"},
      {"date": "2024-09-27", "value": 12.96, "series": "Morningstar DM Eur TME NR EUR"},
      {"date": "2024-09-29", "value": 12.96, "series": "Morningstar DM Eur TME NR EUR"},
      {"date": "2024-09-30", "value": 11.86, "series": "Morningstar DM Eur TME NR EUR"},
      {"date": "2024-10-01", "value": 11.51, "series": "Morningstar DM Eur TME NR EUR"},
      {"date": "2024-10-02", "value": 11.55, "series": "Morningstar DM Eur TME NR EUR"},
      {"date": "2024-10-03", "value": 10.54, "series": "Morningstar DM Eur TME NR EUR"},
      {"date": "2024-10-04", "value": 10.98, "series": "Morningstar DM Eur TME NR EUR"},
      {"date": "2024-10-06", "value": 10.96, "series": "Morningstar DM Eur TME NR EUR"},
      {"date": "2024-10-07", "value": 11.2, "series": "Morningstar DM Eur TME NR EUR"},
      {"date": "2024-10-08", "value": 10.63, "series": "Morningstar DM Eur TME NR EUR"},
      {"date": "2024-10-09", "value": 11.33, "series": "Morningstar DM Eur TME NR EUR"},
      {"date": "2024-10-10", "value": 11.29, "series": "Morningstar DM Eur TME NR EUR"},
      {"date": "2024-10-11", "value": 11.82, "series": "Morningstar DM Eur TME NR EUR"},
      {"date": "2024-10-12", "value": 11.84, "series": "Morningstar DM Eur TME NR EUR"},
      {"date": "2024-10-14", "value": 12.42, "series": "Morningstar DM Eur TME NR EUR"},
      {"date": "2024-10-15", "value": 11.6, "series": "Morningstar DM Eur TME NR EUR"},
      {"date": "2024-10-16", "value": 11.25, "series": "Morningstar DM Eur TME NR EUR"},
      {"date": "2024-10-17", "value": 12.17, "series": "Morningstar DM Eur TME NR EUR"},
      {"date": "2024-10-18", "value": 12.42, "series": "Morningstar DM Eur TME NR EUR"},
      {"date": "2024-10-20", "value": 12.42, "series": "Morningstar DM Eur TME NR EUR"},
      {"date": "2024-10-21", "value": 11.68, "series": "Morningstar DM Eur TME NR EUR"},
      {"date": "2024-10-22", "value": 11.51, "series": "Morningstar DM Eur TME NR EUR"},
      {"date": "2024-10-23", "value": 11.14, "series": "Morningstar DM Eur TME NR EUR"},
      {"date": "2024-10-24", "value": 11.09, "series": "Morningstar DM Eur TME NR EUR"},
      {"date": "2024-10-26", "value": 11.09, "series": "Morningstar DM Eur TME NR EUR"},
      {"date": "2024-10-27", "value": 11.14, "series": "Morningstar DM Eur TME NR EUR"},
      {"date": "2024-10-28", "value": 11.55, "series": "Morningstar DM Eur TME NR EUR"},
      {"date": "2024-10-29", "value": 11.07, "series": "Morningstar DM Eur TME NR EUR"},
      {"date": "2024-10-30", "value": 9.57, "series": "Morningstar DM Eur TME NR EUR"},
      {"date": "2024-10-31", "value": 8.21, "series": "Morningstar DM Eur TME NR EUR"},
      {"date": "2024-11-01", "value": 9.4, "series": "Morningstar DM Eur TME NR EUR"},
      {"date": "2024-11-03", "value": 9.4, "series": "Morningstar DM Eur TME NR EUR"},
      {"date": "2024-11-04", "value": 9.09, "series": "Morningstar DM Eur TME NR EUR"},
      {"date": "2024-11-05", "value": 9.09, "series": "Morningstar DM Eur TME NR EUR"},
      {"date": "2024-11-06", "value": 8.74, "series": "Morningstar DM Eur TME NR EUR"},
      {"date": "2024-11-07", "value": 9.2, "series": "Morningstar DM Eur TME NR EUR"},
      {"date": "2024-11-08", "value": 8.47, "series": "Morningstar DM Eur TME NR EUR"},
      {"date": "2024-11-10", "value": 8.47, "series": "Morningstar DM Eur TME NR EUR"},
      {"date": "2024-11-11", "value": 9.73, "series": "Morningstar DM Eur TME NR EUR"},
      {"date": "2024-11-12", "value": 7.57, "series": "Morningstar DM Eur TME NR EUR"}
    ]
  },
  "layer": [
    {
      "mark": {"type": "rule", "stroke": "#e2e2e2", "strokeWidth": 2},
      "encoding": {
        "y": {"datum": 15.82, "type": "quantitative"},
        "x": {"datum": {"year": 2023, "month": 11, "date": 29, "utc": true}, "type": "temporal"},
        "x2": {"datum": {"year": 2024, "month": 12, "date": 25, "utc": true}}
      }
    },
    {
      "mark": {"type": "rule", "stroke": "#5a5a5a", "strokeWidth": 1},
      "encoding": {"y": {"datum": 12, "type": "quantitative"}}
    },
    {
      "mark": {"type": "rule", "stroke": "#5a5a5a", "strokeWidth": 2},
      "encoding": {"y": {"datum": 0, "type": "quantitative"}}
    },
    {
      "data": {"name": "series"},
      "mark": {"type": "line", "strokeWidth": 3.5, "strokeJoin": "round"},
      "encoding": {
        "x": {
          "field": "date",
          "type": "temporal",
          "scale": {
            "type": "utc",
            "domain": [
              {"year": 2023, "month": 11, "date": 29, "hours": 19, "utc": true},
              {"year": 2024, "month": 11, "date": 17, "hours": 6, "utc": true}
            ]
          },
          "axis": {
            "title": null,
            "values": [
              {"year": 2024, "month": 1, "date": 1, "utc": true},
              {"year": 2024, "month": 2, "date": 1, "utc": true},
              {"year": 2024, "month": 3, "date": 1, "utc": true},
              {"year": 2024, "month": 4, "date": 1, "utc": true},
              {"year": 2024, "month": 5, "date": 1, "utc": true},
              {"year": 2024, "month": 6, "date": 1, "utc": true},
              {"year": 2024, "month": 7, "date": 1, "utc": true},
              {"year": 2024, "month": 8, "date": 1, "utc": true},
              {"year": 2024, "month": 9, "date": 1, "utc": true},
              {"year": 2024, "month": 10, "date": 1, "utc": true},
              {"year": 2024, "month": 11, "date": 1, "utc": true}
            ],
            "domain": false,
            "ticks": false,
            "grid": false,
            "labelFontSize": 29,
            "labelColor": "#222222",
            "labelPadding": 13,
            "labelBaseline": "top",
            "labelLineHeight": 38,
            "labelFlush": false,
            "labelOverlap": false,
            "labelExpr": "utcmonth(datum.value) == 0 ? ['Jan', '2024'] : utcFormat(datum.value, '%b')"
          }
        },
        "y": {
          "field": "value",
          "type": "quantitative",
          "scale": {"domain": [-3, 13], "nice": false, "zero": false},
          "axis": {
            "title": null,
            "values": [-2, 0, 2, 4, 6, 8, 10, 12],
            "domain": false,
            "ticks": true,
            "tickSize": -88,
            "tickColor": "#555555",
            "tickWidth": 2,
            "labelPadding": 88,
            "labelAlign": "left",
            "labelBaseline": "alphabetic",
            "labelOffset": -9,
            "labelFontSize": 29,
            "labelColor": "#222222",
            "grid": true,
            "gridColor": "#dddddd",
            "gridDash": [5, 5],
            "gridWidth": 1.5,
            "labelOverlap": false,
            "labelExpr": "datum.value == 12 ? format(datum.value, '.1f') + '%' : format(datum.value, '.1f')"
          }
        },
        "color": {
          "field": "series",
          "type": "nominal",
          "scale": {
            "domain": ["Bestinfond", "Morningstar DM Eur TME NR EUR"],
            "range": ["#2157B4", "#A60034"]
          },
          "legend": {
            "title": null,
            "orient": "none",
            "legendX": 0,
            "legendY": -62,
            "direction": "horizontal",
            "symbolType": "stroke",
            "symbolStrokeWidth": 3.5,
            "symbolSize": 576,
            "labelFontSize": 29,
            "labelColor": "#222222",
            "labelOffset": 9,
            "columnPadding": 20,
            "labelLimit": 600
          }
        }
      }
    },
    {
      "data": {"values": [{"date": "2024-11-12", "value": 11.26, "label": "11.3%"}]},
      "mark": {"type": "text", "align": "left", "baseline": "middle", "dx": 12, "fontSize": 29, "color": "#2157B4"},
      "encoding": {
        "x": {"field": "date", "type": "temporal"},
        "y": {"field": "value", "type": "quantitative"},
        "text": {"field": "label"}
      }
    },
    {
      "data": {"values": [{"date": "2024-11-12", "value": 7.57, "label": "7.6%"}]},
      "mark": {"type": "text", "align": "left", "baseline": "middle", "dx": 12, "fontSize": 29, "color": "#A60034"},
      "encoding": {
        "x": {"field": "date", "type": "temporal"},
        "y": {"field": "value", "type": "quantitative"},
        "text": {"field": "label"}
      }
    }
  ]
}
